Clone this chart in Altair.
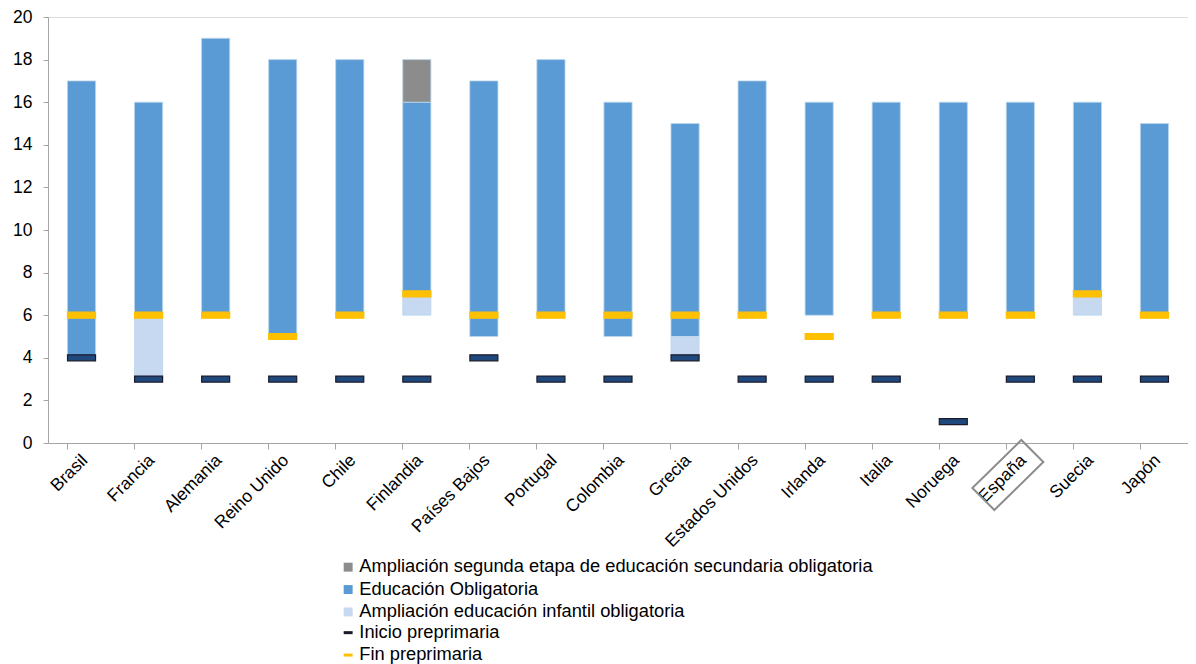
import altair as alt
import pandas as pd

countries = ["Brasil", "Francia", "Alemania", "Reino Unido", "Chile", "Finlandia",
             "Países Bajos", "Portugal", "Colombia", "Grecia", "Estados Unidos",
             "Irlanda", "Italia", "Noruega", "España", "Suecia", "Japón"]
oblig_start = [4, 6, 6, 5, 6, 7, 5, 6, 5, 5, 6, 6, 6, 6, 6, 7, 6]
oblig_end = [17, 16, 19, 18, 18, 16, 17, 18, 16, 15, 17, 16, 16, 16, 16, 16, 15]
infantil_start = [None, 3, None, None, None, 6, None, None, None, 4, None, None, None, None, None, 6, None]
infantil_end = [None, 6, None, None, None, 7, None, None, None, 5, None, None, None, None, None, 7, None]
secund_start = [None, None, None, None, None, 16, None, None, None, None, None, None, None, None, None, None, None]
secund_end = [None, None, None, None, None, 18, None, None, None, None, None, None, None, None, None, None, None]
inicio_pre = [4, 3, 3, 3, 3, 3, 4, 3, 3, 4, 3, 3, 3, 1, 3, 3, 3]
fin_pre = [6, 6, 6, 5, 6, 7, 6, 6, 6, 6, 6, 5, 6, 6, 6, 7, 6]

S_SEC = "Ampliación segunda etapa de educación secundaria obligatoria"
S_OBL = "Educación Obligatoria"
S_INF = "Ampliación educación infantil obligatoria"
S_INI = "Inicio preprimaria"
S_FIN = "Fin preprimaria"

highlight = ["España"]
highlight_y = [-1.55]

rows = []
for i, c in enumerate(countries):
    rows.append({"pais": c, "tipo": S_OBL, "y0": oblig_start[i], "y1": oblig_end[i]})
    if infantil_start[i] is not None:
        rows.append({"pais": c, "tipo": S_INF, "y0": infantil_start[i], "y1": infantil_end[i]})
    if secund_start[i] is not None:
        rows.append({"pais": c, "tipo": S_SEC, "y0": secund_start[i], "y1": secund_end[i]})
bars_df = pd.DataFrame(rows)

mk = []
for i, c in enumerate(countries):
    mk.append({"pais": c, "marca": S_INI, "relleno": "ini", "v": inicio_pre[i]})
    mk.append({"pais": c, "marca": S_FIN, "relleno": "fin", "v": fin_pre[i]})
mk_df = pd.DataFrame(mk)

hl_df = pd.DataFrame({"pais": highlight, "v": highlight_y})

FONT = "Liberation Sans"

x_enc = alt.X("pais:N", sort=countries, title=None,
              scale=alt.Scale(paddingInner=0.58, paddingOuter=0.29),
              axis=alt.Axis(labelAngle=-45, labelFontSize=17.5, labelColor="#000000",
                            labelFont=FONT, domainColor="#a6a6a6", tickColor="#a6a6a6",
                            tickSize=6, bandPosition=0, labelPadding=2, labelOffset=-3,
                            labelLimit=300))
y_scale = alt.Scale(domain=[0, 20], nice=False)
y_axis = alt.Axis(values=list(range(0, 21, 2)), labelFontSize=17.5, labelColor="#000000",
                  labelFont=FONT, domainColor="#a6a6a6", tickColor="#a6a6a6",
                  tickSize=5, grid=False, labelPadding=11)

bars = alt.Chart(bars_df).mark_bar(stroke="#bdd7ee", strokeWidth=0.8).encode(
    x=x_enc,
    y=alt.Y("y0:Q", scale=y_scale, axis=y_axis, title=None),
    y2="y1:Q",
    color=alt.Color("tipo:N",
                    scale=alt.Scale(domain=[S_SEC, S_OBL, S_INF],
                                    range=["#8c8c8c", "#5b9bd5", "#c6d9f0"]),
                    legend=alt.Legend(title=None, orient="none", legendX=291, legendY=541,
                                      symbolType="square", symbolSize=80,
                                      labelFontSize=18.3, labelFont=FONT, labelColor="#000000",
                                      rowPadding=3.4, labelLimit=800, symbolStrokeWidth=0,
                                      labelOffset=2)),
)

ticks = alt.Chart(mk_df).mark_tick(thickness=6, size=28, strokeWidth=1.2, opacity=1).encode(
    x=alt.X("pais:N", sort=countries),
    y=alt.Y("v:Q", scale=y_scale),
    fill=alt.Fill("relleno:N", scale=alt.Scale(domain=["ini", "fin"], range=["#1f497d", "#ffc000"]),
                  legend=None),
    stroke=alt.Stroke("marca:N", scale=alt.Scale(domain=[S_INI, S_FIN], range=["#1a1a2a", "#ffc000"]),
                      legend=alt.Legend(title=None, orient="none", legendX=291, legendY=606.5,
                                        symbolType="stroke", symbolSize=80, symbolStrokeWidth=3,
                                        labelFontSize=18.3, labelFont=FONT, labelColor="#000000",
                                        rowPadding=3.4, labelLimit=800, labelOffset=2)),
)

box = alt.Chart(hl_df).mark_point(
    shape="M0.02,-0.72L0.46,-0.28L-0.52,0.68L-0.96,0.24Z",
    size=10000, filled=False, stroke="#8c8c8c", strokeWidth=2, opacity=1, clip=False
).encode(
    x=alt.X("pais:N", sort=countries),
    y=alt.Y("v:Q", scale=y_scale),
)

chart = alt.layer(bars, ticks, box).properties(
    width=1140, height=426,
    autosize=alt.AutoSizeParams(type="none"),
    padding={"left": 40, "top": 9, "right": 0, "bottom": 222},
).configure_view(stroke=None).configure(font=FONT)

chart.save("out.html", embed_options={"renderer": "svg", "actions": False})
